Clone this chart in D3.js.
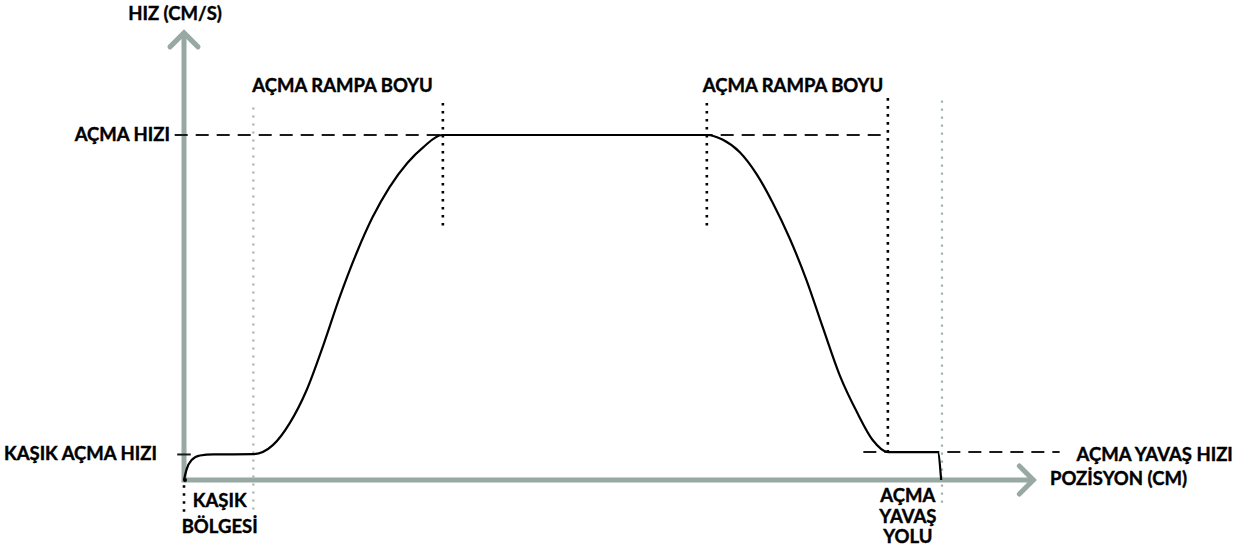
<!DOCTYPE html>
<html>
<head>
<meta charset="utf-8">
<title>hiz pozisyon</title>
<script src="https://d3js.org/d3.v7.min.js"></script>
<style>
  body { margin: 0; background: #fff; }
  text { font-family: Lato, "Open Sans", sans-serif; font-weight: bold; font-size: 18.5px; fill: #000; stroke: #000; stroke-width: 0.4px; }
</style>
</head>
<body>
<script>
// hiz profili: pozisyon (birim) ve hiz (% acma hizi)
var profilePos   = [0, 0.3, 0.9, 1.9, 3.5, 8.2, 10.5, 12.5, 14.5, 16.4, 18.4, 20.4, 22.3, 24.3, 26.4, 28.3, 30.5,
                    61.8, 63.7, 65.7, 67.7, 69.6, 71.6, 73.6, 75.5, 77.5, 79.6, 81.4, 83.2, 89.1, 89.5]
var profileSpeed = [0, 3, 5.8, 7.1, 7.4, 7.5, 10.1, 16.5, 26.1, 38.6, 53, 65.8, 76.2, 84.9, 91.9, 96.5, 100,
                    100, 98.6, 95, 88.6, 80.3, 70, 57.8, 44.3, 30.4, 19.4, 11.6, 8.1, 8.1, 0]

// hiz seviyeleri
var speedNames  = ["AÇMA HIZI", "KAŞIK AÇMA HIZI", "AÇMA YAVAŞ HIZI"]
var speedValues = [100, 7.4, 8.1]

// dikey isaret cizgileri
var markerPos   = [0, 8.2, 30.6, 61.8, 83.2, 89.6]
var markerTop   = [-1.5, 108, 109.3, 109.3, 110.7, 110]
var markerBot   = [-10, -9.6, 73, 73, 7.2, -7.2]
var markerGray  = [false, true, false, false, false, true]

var xTitle = "POZİSYON (CM)"
var yTitle = "HIZ (CM/S)"
var rampLabel = "AÇMA RAMPA BOYU"
var zoneLabel = ["KAŞIK", "BÖLGESİ"]
var slowLabel = ["AÇMA", "YAVAŞ", "YOLU"]

var w = 1251, h = 553
var svg = d3.select("body").append("svg").attr("width", w).attr("height", h)

var x = d3.scaleLinear().domain([0, 100]).range([184, 1030])
var y = d3.scaleLinear().domain([0, 100]).range([480, 135])

var axisColor = "#98a8a3"

// eksenler
var xEnd = 100.4, yEnd = 129.6
svg.append("line")
    .attr("x1", x(0)).attr("y1", y(0)).attr("x2", x(xEnd)).attr("y2", y(0))
    .attr("stroke", axisColor).attr("stroke-width", 5)
svg.append("line")
    .attr("x1", x(0)).attr("y1", y(0) + 2.5).attr("x2", x(0)).attr("y2", y(yEnd))
    .attr("stroke", axisColor).attr("stroke-width", 5)
// ok baslari
svg.append("path")
    .attr("d", "M" + (x(xEnd) - 14) + "," + (y(0) - 14) + "L" + x(xEnd) + "," + y(0) + "L" + (x(xEnd) - 14) + "," + (y(0) + 14))
    .attr("fill", "none").attr("stroke", axisColor).attr("stroke-width", 5).attr("stroke-linecap", "round")
svg.append("path")
    .attr("d", "M" + (x(0) - 14) + "," + (y(yEnd) + 14) + "L" + x(0) + "," + y(yEnd) + "L" + (x(0) + 14) + "," + (y(yEnd) + 14))
    .attr("fill", "none").attr("stroke", axisColor).attr("stroke-width", 5).attr("stroke-linecap", "round")

// hiz seviyesi cizgileri
var levelFrom = [-1.1, -0.8, 80.3]
var levelTo   = [83.2, 0.8, 103.5]
speedValues.forEach(function(v, i) {
    svg.append("line")
        .attr("x1", x(levelFrom[i])).attr("x2", x(levelTo[i]))
        .attr("y1", y(v)).attr("y2", y(v))
        .attr("stroke", "#1a1a1a").attr("stroke-width", 2)
        .attr("stroke-dasharray", i == 1 ? null : "13,8")
})

// isaret cizgileri
markerPos.forEach(function(p, i) {
    svg.append("line")
        .attr("x1", x(p)).attr("x2", x(p))
        .attr("y1", y(markerTop[i])).attr("y2", y(markerBot[i]))
        .attr("stroke", markerGray[i] ? "#a3b2ad" : "#000")
        .attr("stroke-width", markerGray[i] ? 2.2 : 2.6)
        .attr("stroke-dasharray", markerGray[i] ? "2.2,5.8" : "2.6,5.4")
})

// hiz egrisi
var line = d3.line()
    .x(function(d, i) { return x(profilePos[i]) })
    .y(function(d, i) { return y(profileSpeed[i]) })
    .curve(d3.curveMonotoneX)
svg.append("path")
    .datum(profilePos)
    .attr("d", line)
    .attr("fill", "none")
    .attr("stroke", "#000")
    .attr("stroke-width", 2.2)
svg.append("circle").attr("cx", x(0) + 1).attr("cy", y(0)).attr("r", 2).attr("fill", "#000")

// yazilar
svg.append("text").text(yTitle).attr("x", x(0) - 9).attr("y", 20).attr("text-anchor", "middle")
svg.append("text").text(xTitle).attr("x", x(100) + 20).attr("y", y(0) + 5)

svg.append("text").text(rampLabel).attr("x", x(markerPos[1]) - 1).attr("y", 92)
svg.append("text").text(rampLabel).attr("x", x(markerPos[3]) - 4).attr("y", 92)

svg.append("text").text(speedNames[0]).attr("x", x(0) - 14).attr("y", y(speedValues[0]) + 6).attr("text-anchor", "end")
svg.append("text").text(speedNames[1]).attr("x", x(0) - 27).attr("y", y(speedValues[1]) + 6).attr("text-anchor", "end")
svg.append("text").text(speedNames[2]).attr("x", x(103.5) + 17).attr("y", y(speedValues[2]) + 9)

zoneLabel.forEach(function(t, i) {
    svg.append("text").text(t).attr("x", (x(markerPos[0]) + x(markerPos[1])) / 2 + 1)
        .attr("y", 507 + i * 26).attr("text-anchor", "middle")
})
slowLabel.forEach(function(t, i) {
    svg.append("text").text(t).attr("x", x(markerPos[4]) + 20)
        .attr("y", 502 + i * 20.5).attr("text-anchor", "middle")
})
</script>
</body>
</html>
